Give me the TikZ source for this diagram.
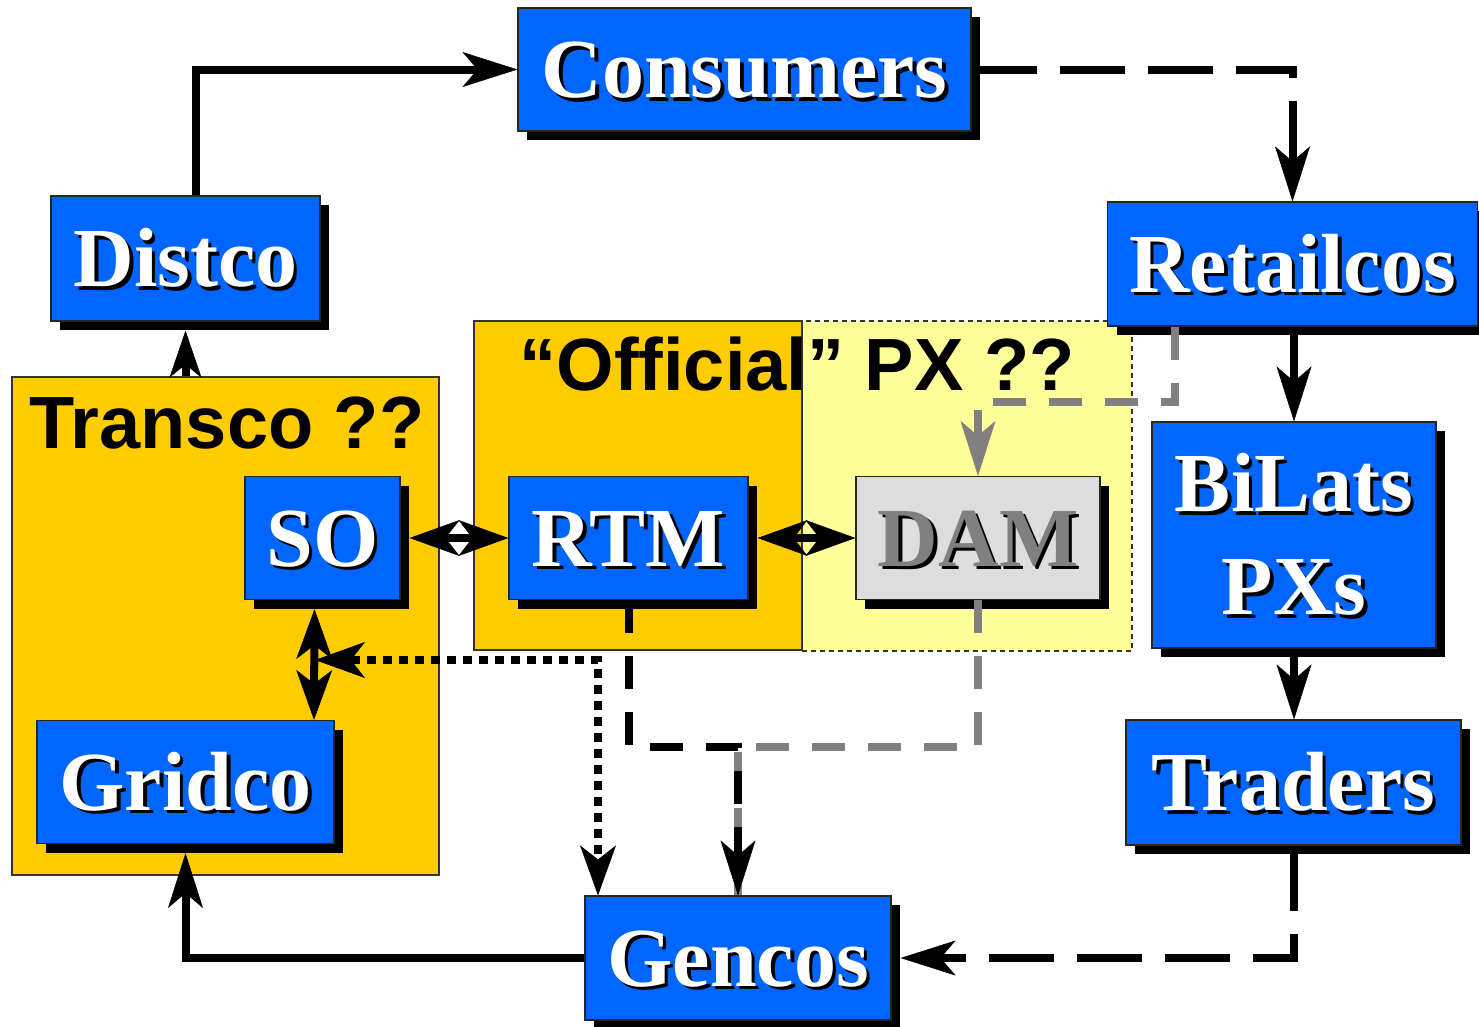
\documentclass[tikz,border=0pt]{standalone}
\usepackage{fontspec}
\setmainfont{Liberation Serif}
\newfontfamily\regionfont{Liberation Sans}
\usetikzlibrary{arrows.meta,shadows}
\definecolor{boxblue}{HTML}{0066FF}
\definecolor{zoneorange}{HTML}{FFCC00}
\definecolor{zoneyellow}{HTML}{FFFF99}
\definecolor{damgray}{HTML}{DDDDDD}
\definecolor{linegray}{HTML}{808080}
% label with a black drop shadow behind it
\newcommand\embossed[2][white]{\makebox[0pt][l]{\hspace{3.5pt}\raisebox{-3.5pt}{\color{black}#2}}{\color{#1}#2}}
\begin{document}
\begin{tikzpicture}[x=1pt,y=-1pt,
  dims/.style 2 args={minimum width=#1pt, minimum height=#2pt},
  entity/.style={rectangle, draw=black!85, line width=1.2pt, fill=boxblue,
    inner sep=0pt, text height=56pt, text depth=0pt,
    font=\fontsize{84}{103}\selectfont\bfseries,
    drop shadow={shadow xshift=9pt, shadow yshift=-9pt, fill=black, opacity=1}},
  zone/.style={rectangle, draw=black!80, line width=1.3pt, inner sep=0pt},
  zonelabel/.style={inner sep=0pt, font=\regionfont\bfseries\fontsize{74}{80}\selectfont},
  link/.style={line width=8pt},
  longdash/.style={link, dash pattern=on 65pt off 23pt},
  shortdash/.style={link, dash pattern=on 33pt off 23pt},
  dotlink/.style={line width=8pt, dash pattern=on 9pt off 7pt},
  head/.style={-{Stealth[length=55pt,width=35pt,inset=15pt,line width=0.5pt]}},
  twohead/.style={{Stealth[length=50pt,width=36pt,inset=14pt,line width=0.5pt]}-{Stealth[length=50pt,width=36pt,inset=14pt,line width=0.5pt]}}
]
\useasboundingbox (0,0) rectangle (1479,1026);

% market zones
\node[zone, fill=zoneorange, dims={427}{498}] (transco) at (225.5,626) {};
\node[zone, fill=zoneyellow, dash pattern=on 5pt off 4pt, dims={330}{330}] (damzone) at (967,486) {};
\node[zone, fill=zoneorange, dims={328}{329}] (official) at (638,485.5) {};
\node[zonelabel, anchor=base] (transcotext) at (227,448) {Transco ??};
\node[zonelabel, anchor=base] (officialtext) at (797,390) {“Official” PX ??};

% market participants
\node[entity, dims={453}{123}] (cons) at (744.5,69.5) {\embossed{Consumers}};
\node[entity, dims={269}{125}] (distco) at (185.5,258.5) {\embossed{Distco}};
\node[entity, dims={370}{124}] (ret) at (1292.5,264) {\embossed{Retailcos}};
\node[entity, dims={284}{226}, text height=159pt] (bil) at (1294,535)
  {\vbox{\baselineskip=103pt\hbox to 0pt{\hss\embossed{BiLats}\hss}\hbox to 0pt{\hss\embossed{PXs}\hss}}};
\node[entity, dims={335}{125}] (tra) at (1293.5,782.5) {\embossed{Traders}};
\node[entity, dims={306}{124}] (gen) at (738,958) {\embossed{Gencos}};
\node[entity, dims={297}{123}] (gridco) at (185.5,782) {\embossed{Gridco}};
\node[entity, dims={155}{123}] (so) at (322.5,538) {\embossed{SO}};
\node[entity, dims={239}{123}] (rtm) at (628.5,538) {\embossed{RTM}};
\node[entity, dims={244}{123}, fill=damgray] (dam) at (978,538) {\embossed[linegray]{DAM}};

% bend points
\coordinate (sgmid) at (315,660);
\coordinate (dotcorner) at (598,660);
\coordinate (lowbar) at (738,747);
\coordinate (graybend) at (1175,402);

% flows
\draw[link, head] ([xshift=10.5pt]distco.north) |- (cons.west);
\draw[longdash, head] (cons.east) -| (ret.north);
\draw[link, head] (ret.south -| bil.north) -- (bil.north);
\draw[link, head] (bil.south) -- (bil.south |- tra.north);
\draw[longdash, head] (tra.south) |- ([xshift=9pt]gen.east);
\draw[link, head] (gen.west) -| ([yshift=-9pt]gridco.south);
\draw[link, -{Stealth[length=47pt,width=32pt,inset=13pt,line width=0.5pt]}]
  (distco.south |- transco.north) -- ([yshift=-9pt]distco.south);
\draw[link, twohead] ([xshift=9pt]so.east) -- (rtm.west);
\draw[link, twohead] ([xshift=9pt]rtm.east) -- (dam.west);
\draw[link, twohead] ([xshift=-8pt,yshift=-9pt]so.south) -- ([xshift=128.5pt]gridco.north);
\draw[dotlink, twohead] (sgmid) -- (dotcorner) -- (dotcorner |- gen.north);
\draw[shortdash, draw=linegray] (dam.south) |- (lowbar) -- (gen.north);
\draw[shortdash, head] (rtm.south) |- (lowbar) -- (gen.north);
\draw[shortdash, draw=linegray, head] (ret.south -| graybend) -- (graybend) -| (dam.north);
\end{tikzpicture}
\end{document}
